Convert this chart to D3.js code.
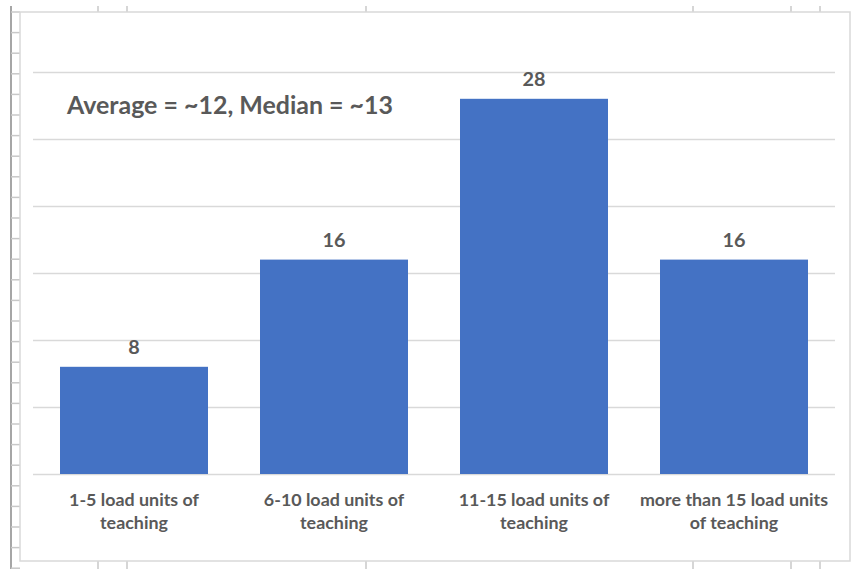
<!DOCTYPE html>
<html>
<head>
<meta charset="utf-8">
<script src="https://cdn.jsdelivr.net/npm/d3@7"></script>
<style>
  html, body { margin: 0; padding: 0; background: #ffffff; }
  svg { display: block; }
  text { font-family: Lato, "Open Sans", sans-serif; font-weight: bold; fill: #595959; }
</style>
</head>
<body>
<svg id="chart" width="852" height="569"></svg>
<script>
// ---- data ----
const categories = [
  "1-5 load units of\nteaching",
  "6-10 load units of\nteaching",
  "11-15 load units of\nteaching",
  "more than 15 load units\nof teaching"
];
const values = [8, 16, 28, 16];
const yTicks = [0, 5, 10, 15, 20, 25, 30];
const annotation = "Average = ~12, Median = ~13";

// ---- layout ----
const W = 852, H = 569;
const svg = d3.select("#chart");

// spreadsheet background remnants
const sheet = svg.append("g");
sheet.append("line").attr("x1", 11).attr("x2", 11).attr("y1", 6).attr("y2", H)
  .attr("stroke", "#a6a6a6").attr("stroke-width", 2);
d3.range(12, H, 20.6).forEach(y => {
  sheet.append("line").attr("x1", 11).attr("x2", 20).attr("y1", y).attr("y2", y)
    .attr("stroke", "#c8c8c8").attr("stroke-width", 1.5);
});
[98, 127, 366, 693, 791, 820].forEach(x => {
  sheet.append("line").attr("x1", x).attr("x2", x).attr("y1", 6).attr("y2", 12)
    .attr("stroke", "#c8c8c8").attr("stroke-width", 1.5);
  sheet.append("line").attr("x1", x).attr("x2", x).attr("y1", 561).attr("y2", H)
    .attr("stroke", "#c8c8c8").attr("stroke-width", 1.5);
});

// chart area
svg.append("rect").attr("x", 20).attr("y", 12).attr("width", 830).attr("height", 549)
  .attr("fill", "#ffffff").attr("stroke", "#d9d9d9").attr("stroke-width", 1.5);

const x = d3.scaleBand().domain(categories).range([34, 834])
  .paddingInner(0.26).paddingOuter(0.13);
const y = d3.scaleLinear().domain([0, 30]).range([474, 72]);

// gridlines via axis
const grid = svg.append("g").attr("transform", "translate(33,0)")
  .call(d3.axisLeft(y).tickValues(yTicks).tickSize(-802).tickFormat(""));
grid.select(".domain").remove();
grid.selectAll(".tick line").attr("stroke", "#d9d9d9").attr("stroke-width", 1.5);

// bars
svg.append("g").selectAll("rect").data(values).join("rect")
  .attr("x", (d, i) => x(categories[i]))
  .attr("width", x.bandwidth())
  .attr("y", d => y(d))
  .attr("height", d => y(0) - y(d))
  .attr("fill", "#4472c4");

// helper: fit font size to a target width
function fitSize(str, target, base) {
  const t = svg.append("text").style("font-size", base + "px").text(str);
  const w = t.node().getComputedTextLength();
  t.remove();
  return base * target / w;
}

// data labels
const dlSize = fitSize("28", 23, 20);
svg.append("g").selectAll("text").data(values).join("text")
  .attr("x", (d, i) => x(categories[i]) + x.bandwidth() / 2)
  .attr("y", d => y(d) - 13)
  .attr("text-anchor", "middle")
  .style("font-size", dlSize + "px")
  .text(d => d);

// category labels
const catSize = fitSize("1-5 load units of", 130, 14);
const cg = svg.append("g").selectAll("text").data(categories).join("text")
  .attr("x", d => x(d) + x.bandwidth() / 2)
  .attr("y", 506)
  .attr("text-anchor", "middle")
  .style("font-size", catSize + "px");
cg.each(function(d) {
  const lines = d.split("\n");
  const t = d3.select(this);
  const cx = x(d) + x.bandwidth() / 2;
  lines.forEach((ln, k) => {
    t.append("tspan").attr("x", cx).attr("dy", k === 0 ? 0 : 23).text(ln);
  });
});

// annotation
const annSize = fitSize(annotation, 326, 20);
svg.append("text").attr("x", 67).attr("y", 114)
  .style("font-size", annSize + "px")
  .text(annotation);
</script>
</body>
</html>
